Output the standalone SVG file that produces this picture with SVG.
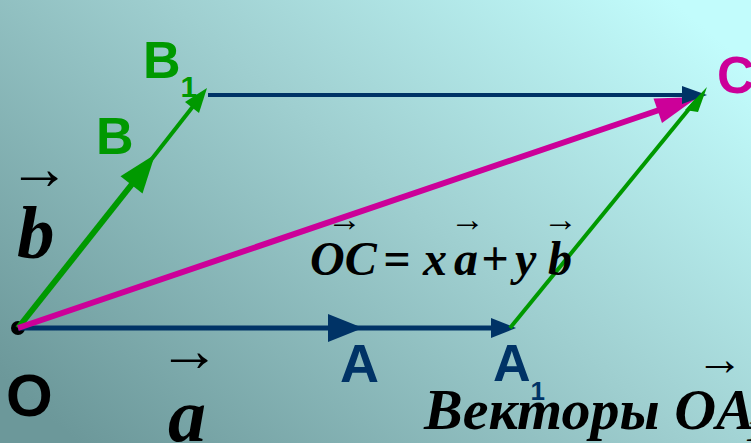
<svg xmlns="http://www.w3.org/2000/svg" width="751" height="443" viewBox="0 0 751 443">
<defs>
<linearGradient id="bg" x1="0" y1="0.85" x2="1" y2="0.15">
<stop offset="0" stop-color="#6c989a"/>
<stop offset="0.55" stop-color="#9fcfd0"/>
<stop offset="1" stop-color="#c2fcfc"/>
</linearGradient>
<style>
.lbl{font-family:"Liberation Sans",Arial,sans-serif;font-weight:bold}
.it{font-family:"Liberation Serif","Times New Roman",serif;font-weight:bold;font-style:italic;fill:#000}
.ar{font-family:"Liberation Serif","DejaVu Serif",serif;font-weight:bold;fill:#000}
.g{stroke:#009900;fill:none}
.m{stroke:#cc0099;fill:none}
.bl{stroke:#003366;fill:none}
</style>
</defs>
<rect width="751" height="443" fill="url(#bg)"/>
<g id="point-O"><circle cx="18" cy="328" r="7" fill="#000"/></g>
<g id="connectors">
<line class="bl" x1="18" y1="328" x2="500" y2="328" stroke-width="5"/>
<polygon points="328,314 363,328 328,342" fill="#003366"/>
<polygon points="491,318 516,328 491,338" fill="#003366"/>
<line class="g" x1="18" y1="328" x2="140" y2="174" stroke-width="6"/>
<polygon points="120.5,176.2 155,154.5 142.5,193.6" fill="#009900"/>
<line class="g" x1="140" y1="174" x2="198" y2="100" stroke-width="4"/>
<polygon points="185,102 207,88 199,113" fill="#009900"/>
<line class="g" x1="510" y1="328" x2="698" y2="98" stroke-width="4"/>
<line class="m" x1="18" y1="328" x2="665" y2="108" stroke-width="6"/>
<polygon points="653.5,98.5 698,97 662,123" fill="#cc0099"/>
<line class="bl" x1="208" y1="95" x2="690" y2="95" stroke-width="4"/>
<polygon points="682,86 707,95 682,104" fill="#003366"/>
<polygon points="685,110 707,87 698,112" fill="#009900"/>
</g>
<g id="labels">
<text class="lbl" x="96" y="154" font-size="52" fill="#009900">B</text>
<text class="lbl" x="143" y="78" font-size="52" fill="#009900">B<tspan font-size="30" dy="19">1</tspan></text>
<text class="lbl" x="717" y="93" font-size="52" fill="#cc0099">C</text>
<text class="lbl" x="340" y="382" font-size="54" fill="#003366">A</text>
<text class="lbl" x="493" y="381" font-size="52" fill="#003366">A<tspan font-size="26" dy="19">1</tspan></text>
<text class="lbl" x="6" y="416" font-size="60" fill="#000">O</text>
</g>
<g id="vector-b">
<text class="ar" x="8" y="189" font-size="62">→</text>
<text class="it" x="17" y="258" font-size="75">b</text>
</g>
<g id="vector-a">
<text class="ar" x="158" y="371" font-size="62">→</text>
<text class="it" x="168" y="441" font-size="76">a</text>
</g>
<g id="equation">
<text class="ar" x="327" y="231" font-size="35">→</text>
<text class="ar" x="450" y="231" font-size="35">→</text>
<text class="ar" x="543" y="231" font-size="35">→</text>
<text class="it" y="275" font-size="48"><tspan x="310">OC</tspan><tspan x="383">=</tspan><tspan x="423">x</tspan><tspan x="454">a</tspan><tspan x="481">+</tspan><tspan x="515">y</tspan><tspan x="548">b</tspan></text>
</g>
<g id="caption">
<text class="ar" x="696" y="375" font-size="47">→</text>
<text class="it" x="424" y="429" font-size="58">Векторы OA<tspan x="746" font-size="34" dy="12">1</tspan></text>
</g>
</svg>
